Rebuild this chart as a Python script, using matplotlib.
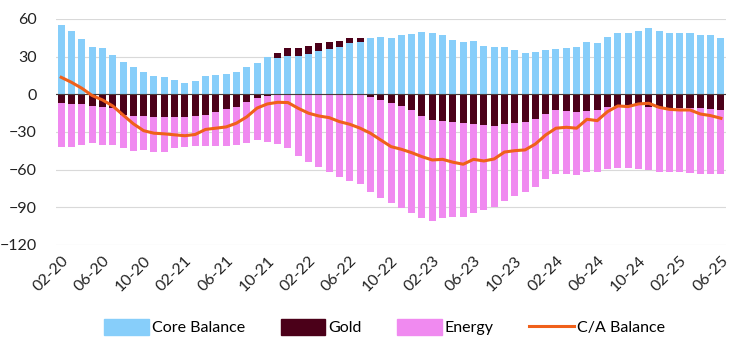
import numpy as np
import matplotlib
matplotlib.use("Agg")
import matplotlib.pyplot as plt
import matplotlib.patches as mpatches
from matplotlib.lines import Line2D

# monthly, 02-20 .. 06-25
start_year, start_month, n_months = 2020, 2, 65

core = [55.5, 50, 44, 37.5, 36.5, 31, 25.5, 21.5, 17.5, 14.5, 13.5, 11.4, 9, 10.6, 14.3,
        15, 16, 17.8, 21.5, 24.7, 29.4, 28.9, 30.7, 30.7, 32.1, 34.2, 36.1, 37.9, 40.6, 41.4,
        44.6, 45.4, 44.6, 47.2, 48, 49.4, 48.6, 47, 43.2, 41.4, 42.2, 38.5, 37.3, 37.9, 35.3,
        32.6, 33.4, 35.3, 35.8, 36.6, 37.4, 41.9, 41.1, 45.9, 48.6, 48.6, 50.4, 52.5, 50.6,
        49.1, 49.1, 49.1, 47.2, 47.2, 44.6]
gold = [-7.2, -7.7, -7.7, -9.3, -10.4, -11, -16.5, -17, -17.3, -18.3, -18.3, -17.8, -18.3,
        -17.3, -16.5, -14.4, -11.7, -9.8, -6.4, -3, -1.2, 4.2, 5.9, 5.9, 6.4, 6.4, 5.8, 4.8,
        4, 3.2, -1.9, -4.5, -6.7, -9.3, -12.5, -17.3, -20.5, -21.3, -22.3, -23, -23.6, -24.7,
        -25.2, -23.6, -22.6, -21.8, -19.7, -15.7, -12.5, -13.3, -14.3, -13, -12.5, -10.4,
        -9.3, -9.8, -8.5, -9.8, -11.2, -11.2, -11.2, -11.2, -11.2, -12, -12.5]
energy = [-34.5, -34.3, -32.9, -29.7, -29.6, -29.6, -26.3, -28, -27.3, -27.4, -27.4, -25.2,
          -23.4, -23.9, -24.7, -26.5, -29.5, -30.8, -32.1, -33.4, -36.5, -39.6, -43, -49, -54,
          -58, -62, -65.6, -68.8, -71.7, -75.6, -78.1, -80.1, -81.5, -82.2, -81.4, -80.4,
          -77.4, -75.2, -74.5, -70.7, -67.4, -64.3, -61.4, -58.4, -55.7, -54.3, -52, -51.2,
          -50.4, -50, -49.1, -49.6, -49.1, -49.1, -48.6, -51.2, -50.5, -50.4, -50.4, -50.9,
          -51.7, -52.3, -51.7, -51.2]
ca_balance = [13.5, 9.5, 4.8, -1, -4.5, -9.3, -16.5, -23.5, -29, -31, -31.5, -32.3, -33, -32,
              -28, -27, -26, -23, -18, -11, -7.7, -6.4, -6.6, -11.2, -15.1, -17.3, -18.6,
              -21.8, -23.9, -27, -31, -36.4, -41.7, -43.8, -46.5, -49.7, -52.3, -51.8, -54.1,
              -55.7, -51.8, -53.1, -51.5, -46, -44.9, -44.3, -39.6, -32.4, -27, -26.3, -27,
              -19.9, -21, -13.8, -9.3, -9.8, -7.7, -7.2, -10.4, -12, -12.5, -12.5, -15.7, -17,
              -19.1]

labels = []
for i in range(n_months):
    m = (start_month - 1 + i) % 12 + 1
    y = start_year + (start_month - 1 + i) // 12
    labels.append(f"{m:02d}-{y % 100:02d}")

C_CORE = "#87cefa"
C_GOLD = "#4b0019"
C_ENERGY = "#f08af0"
C_LINE = "#f0601a"

plt.rcParams['font.family'] = ['Lato', 'DejaVu Sans']

fig = plt.figure(figsize=(7.47, 3.5), dpi=100)
ax = fig.add_axes([0.075, 0.30, 0.897, 0.646])

x = np.arange(n_months)
core_a = np.array(core)
gold_a = np.array(gold)
energy_a = np.array(energy)

# positive gold sits on top of core, negative gold below zero, energy below that
gold_base = np.where(gold_a >= 0, core_a, 0)
energy_base = np.minimum(gold_a, 0)

w = 0.68
ax.bar(x, core_a, width=w, color=C_CORE, zorder=2)
ax.bar(x, gold_a, width=w, bottom=gold_base, color=C_GOLD, zorder=2)
ax.bar(x, energy_a, width=w, bottom=energy_base, color=C_ENERGY, zorder=2)
ax.plot(x, ca_balance, color=C_LINE, lw=2.2, zorder=4)

ax.axhline(0, color="#4a3a3a", lw=0.8, zorder=3)

ax.set_xlim(-0.5, n_months - 0.5)
ax.set_ylim(-120, 60)
ax.set_yticks(range(-120, 61, 30))
ax.grid(axis='y', color="#d9d9d9", lw=0.8, zorder=0)
for s in ax.spines.values():
    s.set_visible(False)

ax.set_xticks(x[::4])
ax.set_xticklabels(labels[::4], rotation=45, ha='right', va='top', rotation_mode='anchor')
ax.tick_params(axis='x', length=0, pad=6, labelsize=11.5, colors="#222222")
ax.tick_params(axis='y', length=0, pad=14, labelsize=11.5, colors="#222222")

handles = [mpatches.Patch(color=C_CORE, label="Core Balance"),
           mpatches.Patch(color=C_GOLD, label="Gold"),
           mpatches.Patch(color=C_ENERGY, label="Energy"),
           Line2D([0], [0], color=C_LINE, lw=2.2, label="C/A Balance")]
fig.legend(handles=handles, loc='center', bbox_to_anchor=(0.515, 0.065), ncol=4,
           frameon=False, fontsize=11.5, handlelength=2.8, handleheight=1.1,
           handletextpad=0.2, columnspacing=2.2)

fig.savefig("out.png", dpi=100)
